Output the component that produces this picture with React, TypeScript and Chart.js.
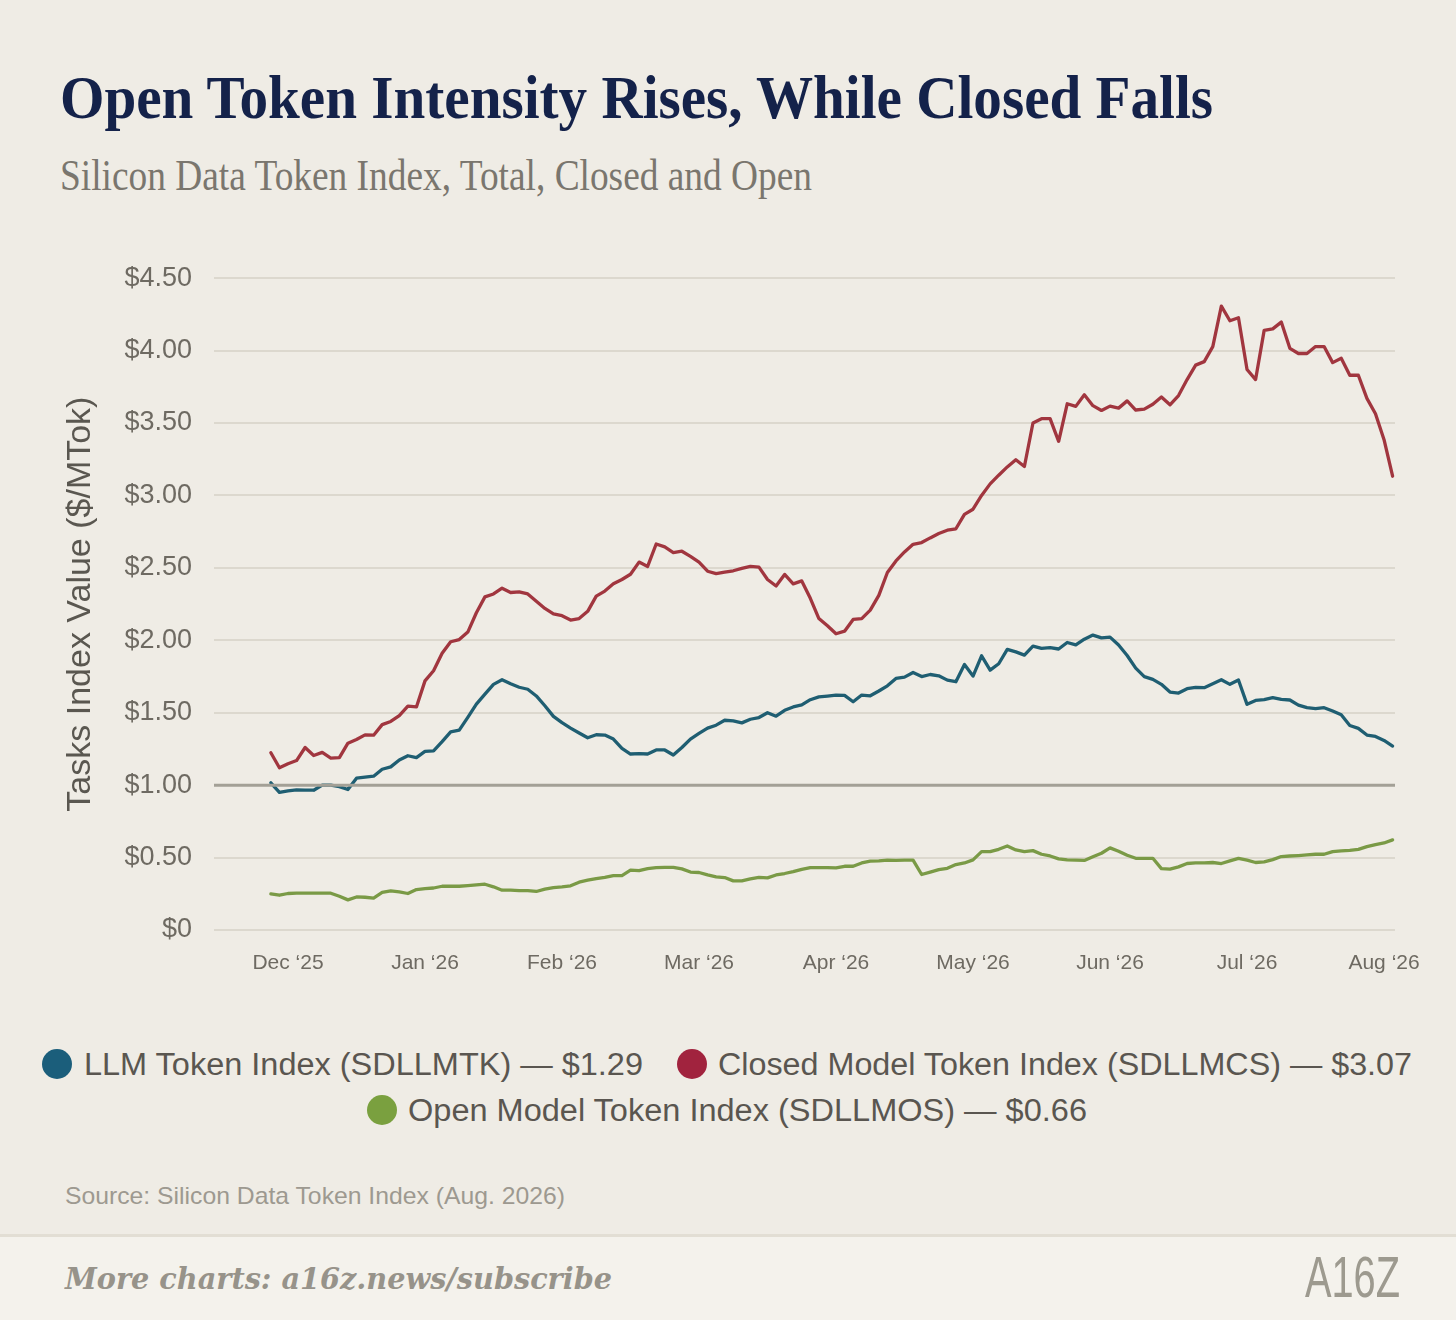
import React, { useEffect, useLayoutEffect, useRef } from 'react'
import { Chart, registerables } from 'chart.js'

Chart.register(...registerables)

// x is measured in months after 1 Dec 2025; samples are ~2 days apart
const MONTH_LABELS = ['Dec ‘25', 'Jan ‘26', 'Feb ‘26', 'Mar ‘26', 'Apr ‘26', 'May ‘26', 'Jun ‘26', 'Jul ‘26', 'Aug ‘26']
const SAMPLE_START = -0.125
const SAMPLE_STEP = 1 / 16
const BASELINE = 1

const LLM = [
  1.016, 0.95, 0.96, 0.968, 0.966, 0.965, 1.0, 1.0, 0.99, 0.97,
  1.048, 1.055, 1.062, 1.11, 1.126, 1.174, 1.203, 1.19, 1.233, 1.237,
  1.3, 1.368, 1.38, 1.468, 1.56, 1.628, 1.696, 1.728, 1.7, 1.676,
  1.662, 1.616, 1.548, 1.475, 1.432, 1.394, 1.36, 1.327, 1.348, 1.346,
  1.318, 1.254, 1.215, 1.217, 1.215, 1.243, 1.243, 1.208, 1.26, 1.318,
  1.357, 1.394, 1.414, 1.448, 1.444, 1.43, 1.455, 1.467, 1.5, 1.476,
  1.517, 1.54, 1.554, 1.59, 1.609, 1.615, 1.622, 1.62, 1.576, 1.622,
  1.617, 1.65, 1.686, 1.737, 1.746, 1.778, 1.75, 1.764, 1.755, 1.725,
  1.714, 1.833, 1.753, 1.893, 1.794, 1.838, 1.937, 1.92, 1.898, 1.96,
  1.944, 1.95, 1.94, 1.985, 1.968, 2.008, 2.036, 2.017, 2.022, 1.968,
  1.895, 1.808, 1.749, 1.73, 1.696, 1.643, 1.636, 1.666, 1.675, 1.673,
  1.7, 1.728, 1.696, 1.726, 1.558, 1.585, 1.59, 1.604, 1.592, 1.588,
  1.553, 1.535, 1.528, 1.535, 1.512, 1.486, 1.412, 1.392, 1.346, 1.336,
  1.309, 1.27,
]

const CLOSED = [
  1.224, 1.12, 1.148, 1.17, 1.26, 1.205, 1.226, 1.187, 1.19, 1.29,
  1.315, 1.347, 1.345, 1.418, 1.44, 1.48, 1.546, 1.54, 1.72, 1.79,
  1.91, 1.99, 2.005, 2.057, 2.19, 2.3, 2.32, 2.36, 2.33, 2.335,
  2.32, 2.27, 2.22, 2.182, 2.17, 2.14, 2.15, 2.2, 2.305, 2.34,
  2.39, 2.42, 2.456, 2.54, 2.51, 2.665, 2.645, 2.606, 2.615, 2.58,
  2.54, 2.477, 2.46, 2.47, 2.48, 2.497, 2.51, 2.505, 2.42, 2.375,
  2.455, 2.39, 2.41, 2.29, 2.15, 2.1, 2.045, 2.063, 2.144, 2.15,
  2.208, 2.31, 2.468, 2.548, 2.61, 2.663, 2.675, 2.707, 2.737, 2.76,
  2.77, 2.87, 2.905, 3.0, 3.08, 3.14, 3.197, 3.247, 3.2, 3.5,
  3.53, 3.53, 3.374, 3.633, 3.615, 3.695, 3.62, 3.587, 3.617, 3.603,
  3.653, 3.59, 3.596, 3.63, 3.68, 3.626, 3.69, 3.8, 3.9, 3.924,
  4.028, 4.307, 4.206, 4.227, 3.87, 3.8, 4.14, 4.15, 4.197, 4.016,
  3.98, 3.98, 4.028, 4.028, 3.917, 3.947, 3.83, 3.83, 3.67, 3.564,
  3.385, 3.133,
]

const OPEN = [
  0.249, 0.24, 0.252, 0.254, 0.254, 0.254, 0.254, 0.254, 0.233, 0.208,
  0.228, 0.226, 0.22, 0.259, 0.27, 0.263, 0.252, 0.279, 0.286, 0.29,
  0.302, 0.302, 0.302, 0.307, 0.311, 0.316, 0.298, 0.275, 0.275, 0.272,
  0.272, 0.266, 0.282, 0.293, 0.298, 0.305, 0.33, 0.344, 0.355, 0.364,
  0.376, 0.376, 0.413, 0.41, 0.424, 0.431, 0.433, 0.433, 0.422, 0.4,
  0.397, 0.38, 0.367, 0.362, 0.339, 0.339, 0.353, 0.364, 0.36, 0.38,
  0.39, 0.403, 0.419, 0.431, 0.431, 0.431, 0.429, 0.44, 0.44, 0.463,
  0.475, 0.477, 0.482, 0.48, 0.482, 0.482, 0.383, 0.4, 0.417, 0.426,
  0.452, 0.463, 0.484, 0.541, 0.541, 0.557, 0.58, 0.553, 0.541, 0.548,
  0.523, 0.511, 0.491, 0.484, 0.482, 0.48, 0.505, 0.53, 0.567, 0.544,
  0.516, 0.495, 0.495, 0.495, 0.424, 0.42, 0.436, 0.459, 0.463, 0.463,
  0.466, 0.459, 0.477, 0.495, 0.482, 0.466, 0.47, 0.486, 0.507, 0.511,
  0.514, 0.518, 0.523, 0.523, 0.541, 0.546, 0.55, 0.557, 0.576, 0.59,
  0.601, 0.622,
]

const SANS = "'Liberation Sans', Arial, sans-serif"
const SERIF = "'Liberation Serif', 'Times New Roman', serif"

const toPoints = (vals: number[]) => vals.map((y, i) => ({ x: SAMPLE_START + i * SAMPLE_STEP, y }))

// stretches/squeezes a single line of text to a target width
function Fit({ width, style, children }: { width: number; style: React.CSSProperties; children: React.ReactNode }) {
  const ref = useRef<HTMLSpanElement | null>(null)
  useLayoutEffect(() => {
    const el = ref.current
    if (!el) return
    el.style.transform = 'none'
    const w = el.getBoundingClientRect().width
    if (w > 0) el.style.transform = `scaleX(${width / w})`
  }, [width])
  return (
    <span ref={ref} style={{ display: 'inline-block', whiteSpace: 'nowrap', transformOrigin: 'left center', ...style }}>
      {children}
    </span>
  )
}

function Dot({ cx, cy, color }: { cx: number; cy: number; color: string }) {
  return <div style={{ position: 'absolute', left: cx - 15, top: cy - 15, width: 30, height: 30, borderRadius: 15, background: color }} />
}

function LineChart() {
  const canvasRef = useRef<HTMLCanvasElement | null>(null)

  useEffect(() => {
    const el = canvasRef.current
    if (!el) return

    const baseline = {
      id: 'baseline',
      afterDatasetsDraw(chart: any) {
        const { ctx, chartArea, scales } = chart
        const y = scales.y.getPixelForValue(BASELINE)
        ctx.save()
        ctx.strokeStyle = '#a3a096'
        ctx.lineWidth = 3
        ctx.beginPath()
        ctx.moveTo(chartArea.left, y)
        ctx.lineTo(chartArea.right, y)
        ctx.stroke()
        ctx.restore()
      },
    }

    const chart = new Chart(el, {
      type: 'line',
      data: {
        datasets: [
          { label: 'LLM Token Index (SDLLMTK)', data: toPoints(LLM), borderColor: '#1f5e72' },
          { label: 'Closed Model Token Index (SDLLMCS)', data: toPoints(CLOSED), borderColor: '#a1363f' },
          { label: 'Open Model Token Index (SDLLMOS)', data: toPoints(OPEN), borderColor: '#7a9a46' },
        ],
      },
      options: {
        animation: false,
        responsive: false,
        maintainAspectRatio: false,
        layout: { padding: { top: 37, right: 61, bottom: 0, left: 0 } },
        elements: {
          point: { radius: 0, hoverRadius: 0 },
          line: { tension: 0, borderWidth: 3.3, borderJoinStyle: 'round', borderCapStyle: 'round' },
        },
        plugins: { legend: { display: false }, tooltip: { enabled: false } },
        scales: {
          x: {
            type: 'linear',
            min: -0.54,
            max: 8.08,
            afterBuildTicks: (s: any) => { s.ticks = MONTH_LABELS.map((_, i) => ({ value: i })) },
            afterFit: (s: any) => { s.height = 70 },
            ticks: {
              callback: (v: any) => MONTH_LABELS[Math.round(Number(v))] ?? '',
              color: '#6e6a62',
              font: { family: SANS, size: 21 },
              padding: 13,
              maxRotation: 0,
              autoSkip: false,
            },
            grid: { display: false },
            border: { display: false },
          },
          y: {
            min: 0,
            max: 4.5,
            afterFit: (s: any) => { s.width = 174 },
            ticks: {
              stepSize: 0.5,
              callback: (v: any) => (Number(v) === 0 ? '$0' : '$' + Number(v).toFixed(2)),
              color: '#6e6a62',
              font: { family: SANS, size: 27 },
              padding: 22,
            },
            grid: { color: '#dcd8ce', lineWidth: 2, drawTicks: false },
            border: { display: false },
            title: {
              display: true,
              text: 'Tasks Index Value ($/MTok)',
              color: '#5a5750',
              font: { family: SANS, size: 34 },
              padding: { top: 20, bottom: 0 },
            },
          },
        },
      },
      plugins: [baseline],
    })

    return () => chart.destroy()
  }, [])

  return <canvas ref={canvasRef} width={1416} height={760} style={{ position: 'absolute', left: 40, top: 240, width: 1416, height: 760 }} />
}

export default function App() {
  return (
    <div style={{ position: 'absolute', left: 0, top: 0, width: 1456, height: 1320, overflow: 'hidden', background: '#efece5' }}>
      <div style={{ position: 'absolute', left: 60, top: 66, lineHeight: '62px' }}>
        <Fit width={1153} style={{ fontFamily: SERIF, fontWeight: 700, fontSize: 62, color: '#14224a' }}>
          Open Token Intensity Rises, While Closed Falls
        </Fit>
      </div>
      <div style={{ position: 'absolute', left: 60, top: 154, lineHeight: '44px' }}>
        <Fit width={752} style={{ fontFamily: SERIF, fontSize: 44, color: '#7a766e' }}>
          Silicon Data Token Index, Total, Closed and Open
        </Fit>
      </div>

      <LineChart />

      <Dot cx={57} cy={1064} color="#1b5e7b" />
      <div style={{ position: 'absolute', left: 84, top: 1049, lineHeight: '31px' }}>
        <Fit width={559} style={{ fontFamily: SANS, fontSize: 31, color: '#5a5650' }}>LLM Token Index (SDLLMTK) — $1.29</Fit>
      </div>
      <Dot cx={692} cy={1064} color="#a1233e" />
      <div style={{ position: 'absolute', left: 718, top: 1049, lineHeight: '31px' }}>
        <Fit width={694} style={{ fontFamily: SANS, fontSize: 31, color: '#5a5650' }}>Closed Model Token Index (SDLLMCS) — $3.07</Fit>
      </div>
      <Dot cx={382} cy={1110} color="#7aa03f" />
      <div style={{ position: 'absolute', left: 408, top: 1095, lineHeight: '31px' }}>
        <Fit width={679} style={{ fontFamily: SANS, fontSize: 31, color: '#5a5650' }}>Open Model Token Index (SDLLMOS) — $0.66</Fit>
      </div>

      <div style={{ position: 'absolute', left: 65, top: 1184, lineHeight: '24px' }}>
        <Fit width={500} style={{ fontFamily: SANS, fontSize: 24, color: '#9d9990' }}>Source: Silicon Data Token Index (Aug. 2026)</Fit>
      </div>

      <div style={{ position: 'absolute', left: 0, top: 1234, width: 1456, height: 86, background: '#f4f2ec', borderTop: '3px solid #e2ded4' }} />
      <div style={{ position: 'absolute', left: 65, top: 1264, lineHeight: '30px' }}>
        <Fit width={547} style={{ fontFamily: "'DejaVu Serif', serif", fontStyle: 'italic', fontWeight: 700, fontSize: 30, color: '#97938a' }}>
          More charts: a16z.news/subscribe
        </Fit>
      </div>
      <div style={{ position: 'absolute', left: 1305, top: 1248, lineHeight: '58px' }}>
        <Fit width={95} style={{ fontFamily: SANS, fontSize: 58, color: '#9d9a8f' }}>A16Z</Fit>
      </div>
    </div>
  )
}
